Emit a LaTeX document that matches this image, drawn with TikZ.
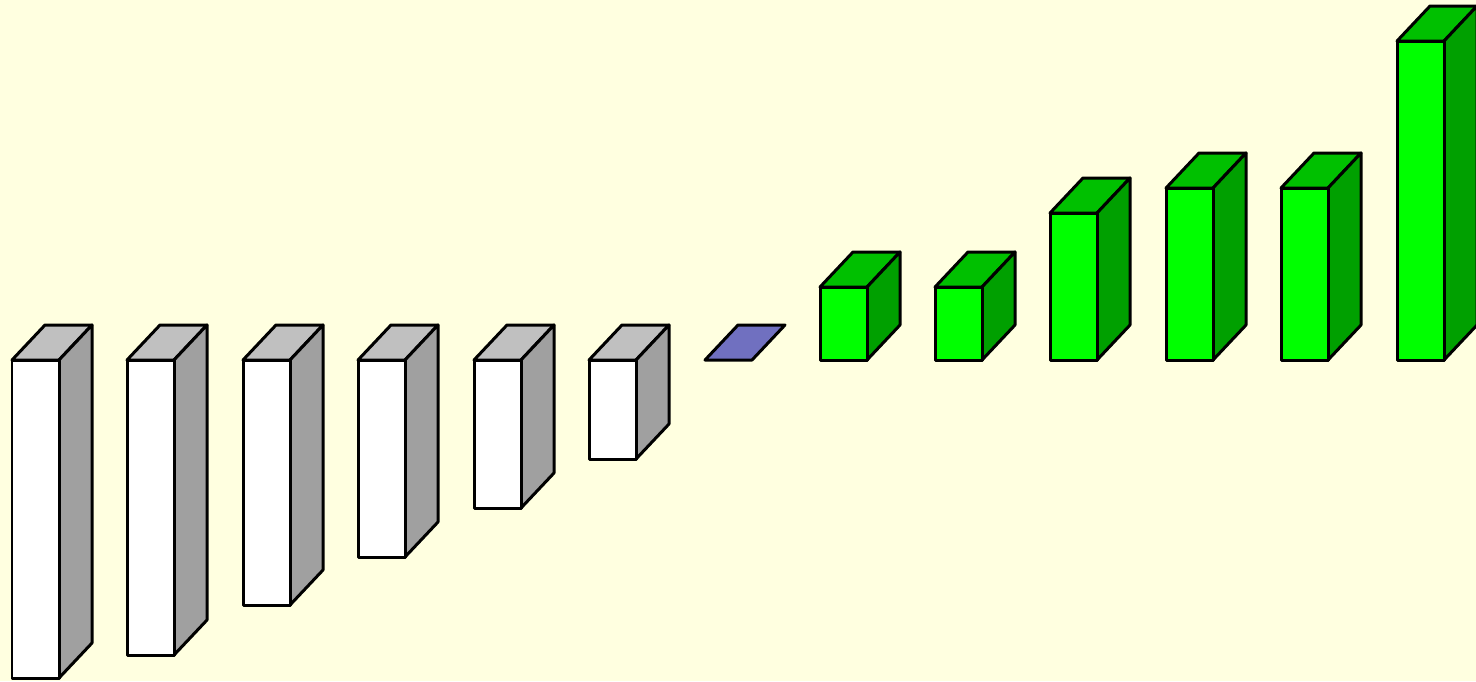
\documentclass[tikz,border=0pt]{standalone}
\usepackage{tikz}
\usepackage{xcolor}
\definecolor{paper}{RGB}{255,255,224}
\definecolor{wtop}{RGB}{192,192,192}
\definecolor{wside}{RGB}{160,160,160}
\definecolor{gfront}{RGB}{0,255,0}
\definecolor{gtop}{RGB}{0,192,0}
\definecolor{gside}{RGB}{0,160,0}
\definecolor{zero}{RGB}{112,112,192}

\begin{document}
\begin{tikzpicture}[x=0.02cm,y=-0.02cm,line join=round,
  face/.style={draw=black,line width=0.06cm},
  wf/.style={face,fill=white},
  wt/.style={face,fill=wtop},
  ws/.style={face,fill=wside},
  gf/.style={face,fill=gfront},
  gt/.style={face,fill=gtop},
  gs/.style={face,fill=gside}]
% background and picture size
\fill[paper] (0,0) rectangle (1476,681);
\useasboundingbox (0,0) rectangle (1476,681);
% white columns (hanging below the base line)
\foreach \x/\yb in {12/678,127/655,243/605,358/557,474/508,589/459}{
  \draw[wt] (\x,360) -- ++(47,0) -- ++(33,-35) -- ++(-47,0) -- cycle;
  \draw[ws] (\x+47,360) -- ++(33,-35) -- (\x+80,\yb-35) -- (\x+47,\yb) -- cycle;
  \draw[wf] (\x,360) rectangle (\x+47,\yb);
}
% zero column
\draw[face,fill=zero] (705,360) -- ++(47,0) -- ++(33,-35) -- ++(-47,0) -- cycle;
% green columns (standing on the base line)
\foreach \x/\yt in {820/287,935/287,1050/213,1166/188,1281/188,1397/41}{
  \draw[gt] (\x,\yt) -- ++(47,0) -- ++(33,-35) -- ++(-47,0) -- cycle;
  \draw[gs] (\x+47,\yt) -- ++(33,-35) -- (\x+80,325) -- (\x+47,360) -- cycle;
  \draw[gf] (\x,\yt) rectangle (\x+47,360);
}
\end{tikzpicture}
\end{document}
